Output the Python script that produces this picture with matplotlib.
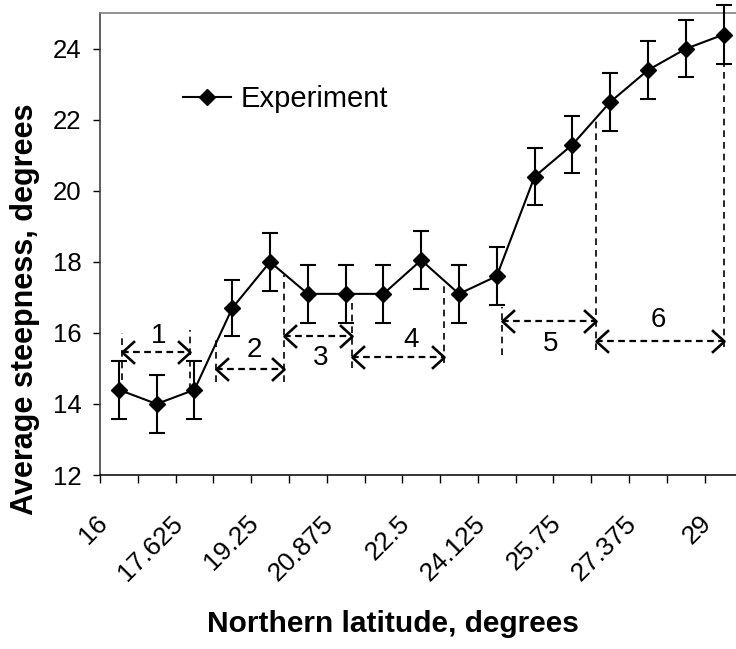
import matplotlib
matplotlib.use("Agg")
import matplotlib.pyplot as plt
import matplotlib.transforms as mtransforms
from matplotlib.path import Path

# category values on the x axis (latitude, degrees)
latitude = [16, 16.8125, 17.625, 18.4375, 19.25, 20.0625, 20.875, 21.6875, 22.5,
            23.3125, 24.125, 24.9375, 25.75, 26.5625, 27.375, 28.1875, 29]
steepness = [14.4, 14.0, 14.4, 16.7, 18.0, 17.1, 17.1, 17.1, 18.05,
             17.1, 17.6, 20.4, 21.3, 22.5, 23.4, 24.0, 24.4]
steep_err = [0.82, 0.82, 0.82, 0.8, 0.81, 0.82, 0.82, 0.82, 0.82,
             0.82, 0.82, 0.8, 0.8, 0.82, 0.82, 0.8, 0.82]
tick_labels = ["16", "17.625", "19.25", "20.875", "22.5", "24.125", "25.75", "27.375", "29"]

# zones marked with dashed arrows
zone_names = ["1", "2", "3", "4", "5", "6"]
zone_x0 = [16.07, 18.08, 19.55, 21.01, 24.24, 26.26]
zone_x1 = [17.52, 19.55, 21.01, 23.0, 26.26, 29.0]
zone_arrow_y = [15.45, 14.98, 15.90, 15.33, 16.35, 15.78]
zone_label_x = [16.86, 18.92, 20.34, 22.29, 25.29, 27.60]
zone_label_y = [15.90, 15.52, 15.29, 15.80, 15.69, 16.37]
border_x = [16.07, 17.52, 18.08, 19.55, 21.01, 23.0, 24.24, 26.26, 29.0]
border_top = [16.0, 16.08, 15.86, 17.63, 16.93, 17.32, 16.74, 22.05, 23.97]
border_bot = [14.68, 14.39, 14.63, 14.63, 15.01, 15.15, 15.38, 15.52, 15.61]

W, H = 736, 649
fig = plt.figure(figsize=(W / 100, H / 100), dpi=100)
plt.rcParams["font.family"] = ["Liberation Sans", "DejaVu Sans"]

left, right, bottom, top = 100, 742.4, 475, 13.3
ax = fig.add_axes([left / W, 1 - bottom / H, (right - left) / W, (bottom - top) / H])

half = (latitude[1] - latitude[0]) / 2
ax.set_xlim(latitude[0] - half, latitude[-1] + half)
ax.set_ylim(12, 25)

dash = (0, (4, 3))
for x, y0, y1 in zip(border_x, border_bot, border_top):
    ax.plot([x, x], [y0, y1], color="black", lw=1.2, linestyle=dash, zorder=2)

left_head = Path([(1.1, 1), (0, 0), (1.1, -1)], [Path.MOVETO, Path.LINETO, Path.LINETO])
right_head = Path([(-1.1, 1), (0, 0), (-1.1, -1)], [Path.MOVETO, Path.LINETO, Path.LINETO])
for name, x0, x1, ya, lx, ly in zip(zone_names, zone_x0, zone_x1, zone_arrow_y,
                                     zone_label_x, zone_label_y):
    ax.plot([x0, x1], [ya, ya], color="black", lw=1.6, linestyle=(0, (3, 2)), zorder=2)
    ax.plot([x0], [ya], marker=left_head, ms=18, mew=1.9, color="black", mfc="none", zorder=2)
    ax.plot([x1], [ya], marker=right_head, ms=18, mew=1.9, color="black", mfc="none", zorder=2)
    ax.text(lx, ly, name, fontsize=20, ha="center", va="center")

ax.errorbar(latitude, steepness, yerr=steep_err, fmt="none", ecolor="black",
            elinewidth=1.5, capsize=6, capthick=1.5, clip_on=False, zorder=3)
ax.plot(latitude, steepness, color="black", lw=1.5, marker="D", ms=7.8,
        mfc="black", mec="black", label="Experiment", clip_on=False, zorder=4)

# category boundaries carry the tick marks, every second category a label
bounds = [v - half for v in latitude] + [latitude[-1] + half]
ax.set_xticks(bounds)
ax.set_xticklabels([])
ax.set_xticks(latitude[::2], minor=True)
ax.set_xticklabels(tick_labels, minor=True, rotation=45, ha="right", va="top", fontsize=19)
ax.tick_params(axis="x", which="major", direction="out", length=5.8, width=1)
ax.tick_params(axis="x", which="minor", length=0, pad=26)
shift = mtransforms.ScaledTranslation(-7 / 100, 0, fig.dpi_scale_trans)
for lab in ax.get_xticklabels(minor=True):
    lab.set_transform(lab.get_transform() + shift)

ax.set_yticks([12, 14, 16, 18, 20, 22, 24])
ax.tick_params(axis="y", direction="out", length=5, width=1, labelsize=18.5, pad=8.4)

ax.spines["top"].set_color("#808080")
ax.spines["top"].set_linewidth(1.2)
ax.spines["left"].set_color("#333333")
ax.spines["left"].set_linewidth(1.1)
ax.spines["bottom"].set_linewidth(1.1)

ax.legend(loc="center left", bbox_to_anchor=(182.7 / W, 1 - 99.3 / H),
          bbox_transform=fig.transFigure, frameon=False, fontsize=21,
          handlelength=1.65, handletextpad=0.35, borderpad=0, borderaxespad=0)

fig.text(393 / W, 1 - 624 / H, "Northern latitude, degrees", fontsize=21.5,
         fontweight="bold", ha="center", va="center")
fig.text(25 / W, 1 - 309 / H, "Average steepness, degrees", fontsize=22,
         fontweight="bold", ha="center", va="center", rotation=90)

fig.savefig("out.png", dpi=100)
